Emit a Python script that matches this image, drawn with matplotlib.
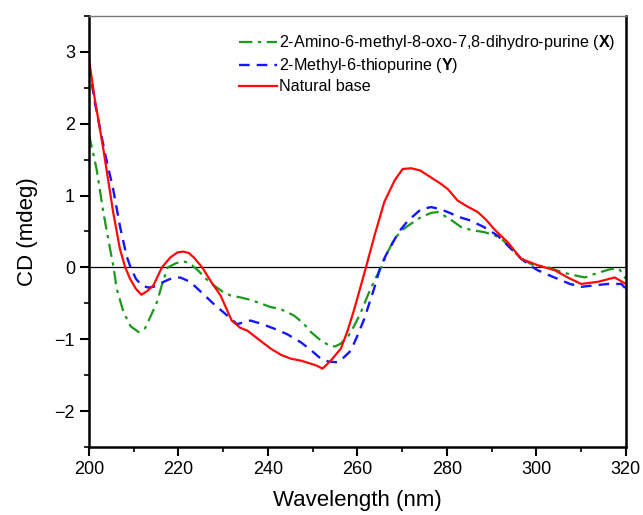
import matplotlib
matplotlib.use('Agg')
from matplotlib import pyplot as plt
from matplotlib.ticker import MultipleLocator

plt.rcParams['font.family'] = ['Liberation Sans', 'DejaVu Sans']
plt.rcParams['mathtext.fontset'] = 'custom'
plt.rcParams['mathtext.rm'] = 'Liberation Sans'
plt.rcParams['mathtext.bf'] = 'Liberation Sans:bold'

# Natural base (red, solid)
natural_wl = [
    200, 201.3, 203.2, 205.4, 206.9, 208.1, 209.2, 210.5, 211.7, 213, 214.4,
    216.3, 218.2, 219.8, 221.1, 222.3, 223.4, 225.3, 227.3, 229.4, 231.9,
    233.8, 235.4, 238.3, 240.6, 243, 245.1, 247.5, 249.6, 251, 252.2, 254,
    256.3, 257.8, 259.3, 261.9, 263.8, 266, 268.3, 270.1, 272, 274, 276.5,
    278.5, 280.2, 282.4, 284.5, 286.9, 288.8, 290.6, 293.6, 296.6, 300.3,
    304.1, 307, 310, 313.8, 317.5, 320,
]
natural_cd = [
    2.90, 2.34, 1.65, 0.77, 0.26, 0.0, -0.16, -0.30, -0.38, -0.33, -0.25,
    0.0, 0.14, 0.21, 0.22, 0.20, 0.14, 0.0, -0.20, -0.39, -0.74,
    -0.84, -0.88, -1.02, -1.13, -1.22, -1.27, -1.30, -1.34, -1.37, -1.41, -1.30,
    -1.13, -0.88, -0.58, 0.0, 0.44, 0.91, 1.21, 1.37, 1.38, 1.35, 1.25,
    1.17, 1.09, 0.93, 0.85, 0.77, 0.66, 0.53, 0.35, 0.12, 0.03,
    -0.04, -0.14, -0.23, -0.20, -0.14, -0.23,
]

# 2-Amino-6-methyl-8-oxo-7,8-dihydro-purine (green, dash-dot)
x_wl = [
    200, 200.6, 201.7, 203.2, 204.7, 205.5, 206.2, 207.7, 209.3, 211.1,
    212.5, 214, 215.2, 216.5, 217.6, 219.5, 221.5, 223, 224.5, 226, 227.9,
    229.7, 231.6, 234, 236, 238.3, 240.5, 242.8, 245.8, 247.8, 249.6, 251.5,
    253.7, 255, 256.3, 258, 259.3, 260.8, 262.3, 263.8, 265.3, 266.8, 268.3,
    270, 271.3, 274.2, 276.5, 278, 280.5, 283.2, 285.5, 288.4, 290.5, 292.2,
    294.5, 296.6, 299, 302.6, 305, 307.1, 310.8, 313.5, 316.8, 318.5, 320,
]
x_cd = [
    1.85, 1.68, 1.37, 0.77, 0.26, 0.0, -0.30, -0.62, -0.82, -0.90,
    -0.85, -0.65, -0.48, -0.20, 0.0, 0.06, 0.08, 0.03, -0.05, -0.15, -0.25,
    -0.33, -0.39, -0.42, -0.45, -0.50, -0.55, -0.58, -0.67, -0.77, -0.90, -1.00,
    -1.09, -1.10, -1.06, -0.95, -0.81, -0.62, -0.39, -0.18, 0.0, 0.22, 0.40,
    0.52, 0.58, 0.70, 0.76, 0.77, 0.68, 0.56, 0.52, 0.49, 0.45, 0.40,
    0.25, 0.12, 0.04, 0.0, -0.05, -0.09, -0.14, -0.08, -0.02, -0.02, -0.16,
]

# 2-Methyl-6-thiopurine (blue, dashed)
y_wl = [
    200, 201.3, 203.6, 205.4, 206.9, 208.4, 209.3, 210.5, 211.8, 213.2,
    214.4, 216.7, 218.5, 220.4, 222.6, 225.2, 227.9, 230.9, 233.1, 234.8,
    236.1, 238.3, 241.3, 244.3, 247.3, 249.6, 251.8, 253.5, 255.5, 257,
    258.5, 260, 261.5, 263.7, 265.1, 266.2, 267.5, 269.3, 271.3, 274.2,
    276.5, 278.5, 280.2, 282.8, 285.4, 288.3, 291.4, 294, 296.6, 298.5,
    300.3, 302.5, 304.8, 307.5, 310, 313, 316, 319, 320,
]
y_cd = [
    2.80, 2.30, 1.58, 1.09, 0.58, 0.16, 0.0, -0.16, -0.25, -0.28,
    -0.27, -0.20, -0.15, -0.14, -0.20, -0.35, -0.51, -0.67, -0.79, -0.76,
    -0.74, -0.78, -0.85, -0.93, -1.04, -1.15, -1.27, -1.31, -1.32, -1.25,
    -1.16, -0.95, -0.72, -0.30, 0.0, 0.15, 0.30, 0.50, 0.65, 0.81,
    0.84, 0.81, 0.77, 0.70, 0.65, 0.56, 0.44, 0.28, 0.12, 0.03,
    -0.04, -0.10, -0.16, -0.23, -0.27, -0.25, -0.23, -0.23, -0.30,
]

fig = plt.figure(figsize=(6.43, 5.15), dpi=100)
ax = fig.add_axes([0.1384, 0.132, 0.835, 0.837])

ax.axhline(0, color='black', lw=0.9, zorder=1)
ax.plot(x_wl, x_cd, color='#1a9a1a', lw=1.6, dashes=(6, 2.5, 1.5, 2.5),
        label=r'2-Amino-6-methyl-8-oxo-7,8-dihydro-purine ($\mathbf{X}$)')
ax.plot(y_wl, y_cd, color='#1515ff', lw=1.7, dashes=(4.5, 3),
        label=r'2-Methyl-6-thiopurine ($\mathbf{Y}$)')
ax.plot(natural_wl, natural_cd, color='#ff0a0a', lw=1.6, label='Natural base')

ax.set_xlim(200, 320)
ax.set_ylim(-2.5, 3.5)
ax.xaxis.set_major_locator(MultipleLocator(20))
ax.xaxis.set_minor_locator(MultipleLocator(10))
ax.yaxis.set_major_locator(MultipleLocator(1))
ax.yaxis.set_minor_locator(MultipleLocator(0.5))
ax.tick_params(which='major', direction='out', length=6.5, width=1.5,
               labelsize=13, top=False, right=False)
ax.tick_params(which='minor', direction='out', length=3.5, width=1.2,
               top=False, right=False)

ax.spines['left'].set_linewidth(1.8)
ax.spines['bottom'].set_linewidth(1.8)
ax.spines['right'].set_linewidth(1.8)
ax.spines['top'].set_linewidth(1.0)
ax.spines['top'].set_color('#777777')

ax.set_xlabel('Wavelength (nm)', fontsize=16, labelpad=9)
ax.set_ylabel('CD (mdeg)', fontsize=16, labelpad=12)

ax.legend(loc='upper left', bbox_to_anchor=(0.267, 0.975), frameon=False,
          fontsize=11.6, handlelength=2.4, handletextpad=0.1,
          labelspacing=0.25, borderaxespad=0)

fig.savefig('out.png', dpi=100)
